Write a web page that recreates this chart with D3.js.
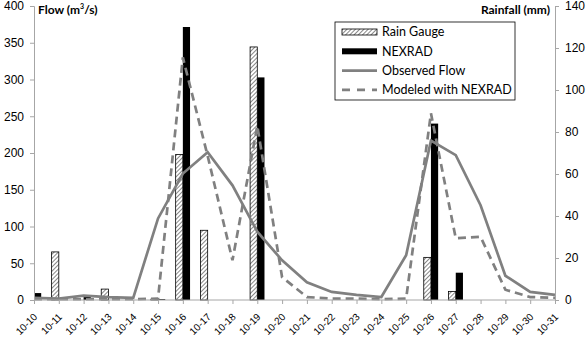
<!DOCTYPE html>
<html>
<head>
<meta charset="utf-8">
<script src="https://cdn.jsdelivr.net/npm/d3@7"></script>
<style>
  body { margin: 0; background: #fff; }
  svg { font-family: Lato, "Liberation Sans", sans-serif; }
</style>
</head>
<body>
<div id="chart"></div>
<script>
// dates on the x axis
const dates = ["10-10","10-11","10-12","10-13","10-14","10-15","10-16","10-17","10-18","10-19","10-20",
  "10-21","10-22","10-23","10-24","10-25","10-26","10-27","10-28","10-29","10-30","10-31"];
// rainfall in mm (right axis)
const rainGauge = [0, 22.9, 0, 5.2, 0, 0.4, 69.3, 33.2, 0, 120.5, 0, 0, 0, 0, 0, 0, 20.3, 4.1, 0, 0, 0, 0];
const nexrad = [3.3, 0, 1.4, 0, 0, 0.4, 130, 0, 0, 106, 0, 0, 0, 0, 0, 0, 84, 13, 0, 0, 0, 0];
// flow in m3/s (left axis)
const observedFlow = [3, 2, 6, 4, 3, 111, 172, 201, 156, 93, 54, 24, 11, 7, 4, 61, 217, 197, 129, 33, 11, 7];
const modeledFlow = [1, 1, 1, 1, 1, 2, 330, 196, 54, 237, 31, 4, 2, 2, 1, 2, 254, 84, 86, 14, 4, 3];
const flowTicks = [0, 50, 100, 150, 200, 250, 300, 350, 400];
const rainTicks = [0, 20, 40, 60, 80, 100, 120, 140];

const size = { width: 587, height: 339 };
const margin = { left: 34, right: 32, top: 6, bottom: 39 };
const axisColor = "#a6a6a6";
const lineColor = "#808080";

const svg = d3.select("#chart").append("svg")
  .attr("width", size.width)
  .attr("height", size.height);

// hatch pattern for rain gauge bars
const defs = svg.append("defs");
defs.append("pattern")
  .attr("id", "hatch")
  .attr("patternUnits", "userSpaceOnUse")
  .attr("width", 3).attr("height", 3)
  .attr("patternTransform", "rotate(45)")
  .call(p => {
    p.append("rect").attr("width", 3).attr("height", 3).attr("fill", "#fff");
    p.append("line").attr("x1", 0).attr("y1", 0).attr("x2", 0).attr("y2", 3)
      .attr("stroke", "#555").attr("stroke-width", 1.4);
  });

const x = d3.scalePoint()
  .domain(dates)
  .range([margin.left, size.width - margin.right]);

const yFlow = d3.scaleLinear()
  .domain([0, 400])
  .range([size.height - margin.bottom, margin.top]);

const yRain = d3.scaleLinear()
  .domain([0, 140])
  .range([size.height - margin.bottom, margin.top]);

const bw = x.step() * 0.29;

// bars
svg.append("g").selectAll("rect")
  .data(dates.map((d, i) => ({ d, v: rainGauge[i] })).filter(e => e.v > 0))
  .join("rect")
  .attr("x", e => x(e.d) - bw)
  .attr("y", e => yRain(e.v))
  .attr("width", bw)
  .attr("height", e => yRain(0) - yRain(e.v))
  .attr("fill", "url(#hatch)")
  .attr("stroke", "#000")
  .attr("stroke-width", 0.8);

svg.append("g").selectAll("rect")
  .data(dates.map((d, i) => ({ d, v: nexrad[i] })).filter(e => e.v > 0))
  .join("rect")
  .attr("x", e => x(e.d))
  .attr("y", e => yRain(e.v))
  .attr("width", bw)
  .attr("height", e => yRain(0) - yRain(e.v))
  .attr("fill", "#000");

// lines
const line = d3.line()
  .x((d, i) => x(dates[i]))
  .y(d => yFlow(d));

svg.append("path")
  .datum(observedFlow)
  .attr("fill", "none")
  .attr("stroke", lineColor)
  .attr("stroke-width", 2.7)
  .attr("d", line);

svg.append("path")
  .datum(modeledFlow)
  .attr("fill", "none")
  .attr("stroke", lineColor)
  .attr("stroke-width", 2.7)
  .attr("stroke-dasharray", "8,5")
  .attr("d", line);

// axes
const styleAxis = g => {
  g.select(".domain").attr("stroke", axisColor);
  g.selectAll(".tick line").attr("stroke", axisColor);
  g.selectAll(".tick text").attr("fill", "#000").style("font-size", "12px");
};

svg.append("g")
  .attr("transform", `translate(${margin.left},0)`)
  .call(d3.axisLeft(yFlow).tickValues(flowTicks).tickSizeOuter(0).tickSize(4).tickPadding(6))
  .call(styleAxis);

svg.append("g")
  .attr("transform", `translate(${size.width - margin.right},0)`)
  .call(d3.axisRight(yRain).tickValues(rainTicks).tickSizeOuter(0).tickSize(4).tickPadding(6))
  .call(styleAxis);

const xAxis = svg.append("g")
  .attr("transform", `translate(0,${size.height - margin.bottom})`)
  .call(d3.axisBottom(x).tickSizeOuter(0).tickSize(4))
  .call(styleAxis);
xAxis.select(".domain").attr("d", `M${margin.left},0H${size.width - margin.right}`);
xAxis.selectAll(".tick text")
  .style("font-size", "10px")
  .attr("text-anchor", "end")
  .attr("dy", "0.35em")
  .attr("transform", "translate(1,15) rotate(-45)")
  .attr("x", 0).attr("y", 0);

// axis titles
svg.append("text")
  .attr("x", 38).attr("y", 14)
  .style("font-size", "12px").style("font-weight", "bold")
  .text("Flow (m")
  .append("tspan").attr("dy", -5).style("font-size", "7px").text("3")
  .select(function () { return this.parentNode; })
  .append("tspan").attr("dy", 5).text("/s)");

svg.append("text")
  .attr("x", 550).attr("y", 14)
  .attr("text-anchor", "end")
  .style("font-size", "12px").style("font-weight", "bold")
  .text("Rainfall (mm)");

// legend
const legend = svg.append("g").attr("transform", "translate(335,22)");
legend.append("rect")
  .attr("width", 180).attr("height", 78)
  .attr("fill", "#fff").attr("stroke", "#000").attr("stroke-width", 0.8);

const legendItems = ["Rain Gauge", "NEXRAD", "Observed Flow", "Modeled with NEXRAD"];
legendItems.forEach((name, i) => {
  const yy = 10 + i * 19.3;
  const g = legend.append("g").attr("transform", `translate(0,${yy})`);
  if (i === 0) {
    g.append("rect").attr("x", 7).attr("y", -3).attr("width", 35).attr("height", 6)
      .attr("fill", "url(#hatch)").attr("stroke", "#000").attr("stroke-width", 0.8);
  } else if (i === 1) {
    g.append("rect").attr("x", 7).attr("y", -3).attr("width", 35).attr("height", 6).attr("fill", "#000");
  } else {
    g.append("line").attr("x1", 7).attr("x2", 42).attr("y1", 0).attr("y2", 0)
      .attr("stroke", lineColor).attr("stroke-width", 2.7)
      .attr("stroke-dasharray", i === 3 ? "8,7" : null);
  }
  g.append("text").attr("x", 47).attr("y", 0).attr("dy", "0.35em")
    .style("font-size", "12.5px").text(name);
});
</script>
</body>
</html>
